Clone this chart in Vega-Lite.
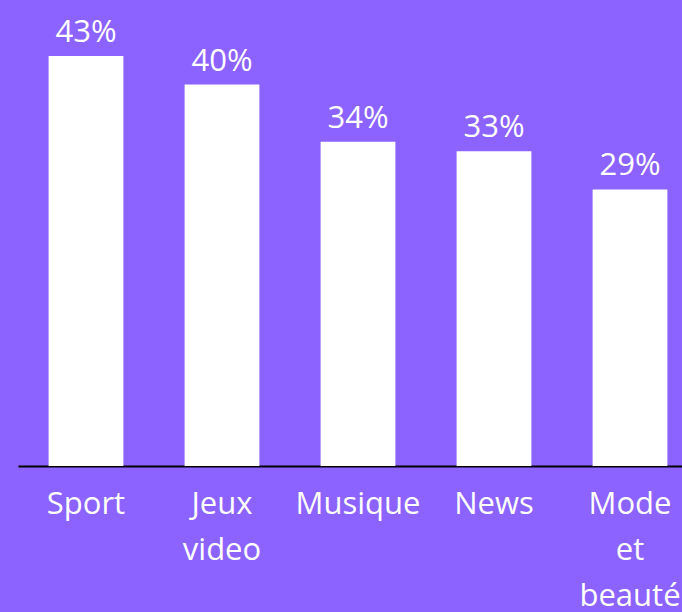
{
  "$schema": "https://vega.github.io/schema/vega-lite/v6.json",
  "autosize": {"type": "none"},
  "width": 680,
  "height": 410,
  "padding": {"left": 18, "top": 56, "right": 0, "bottom": 146},
  "background": "#8C63FF",
  "config": {"view": {"stroke": null}},
  "data": {
    "values": [
      {"category": "Sport", "value": 43, "text": "43%"},
      {"category": "Jeux video", "value": 40, "text": "40%"},
      {"category": "Musique", "value": 34, "text": "34%"},
      {"category": "News", "value": 33, "text": "33%"},
      {"category": "Mode et beauté", "value": 29, "text": "29%"}
    ]
  },
  "encoding": {
    "x": {
      "field": "category",
      "type": "nominal",
      "sort": null,
      "scale": {"paddingInner": 0.45, "paddingOuter": 0.225},
      "axis": {
        "title": null,
        "labelAngle": 0,
        "labelFont": "Open Sans",
        "labelFontSize": 31,
        "labelColor": "white",
        "labelExpr": "split(datum.label, ' ')",
        "labelLineHeight": 46,
        "labelPadding": 23,
        "ticks": false,
        "domainColor": "black",
        "domainWidth": 2,
        "labelLimit": 0
      }
    },
    "y": {
      "field": "value",
      "type": "quantitative",
      "scale": {"domain": [0, 43], "nice": false},
      "axis": null
    }
  },
  "layer": [
    {"mark": {"type": "bar", "color": "white"}},
    {
      "mark": {"type": "text", "color": "white", "font": "Open Sans", "fontSize": 31, "baseline": "alphabetic", "dy": -14},
      "encoding": {"text": {"field": "text"}}
    }
  ]
}
